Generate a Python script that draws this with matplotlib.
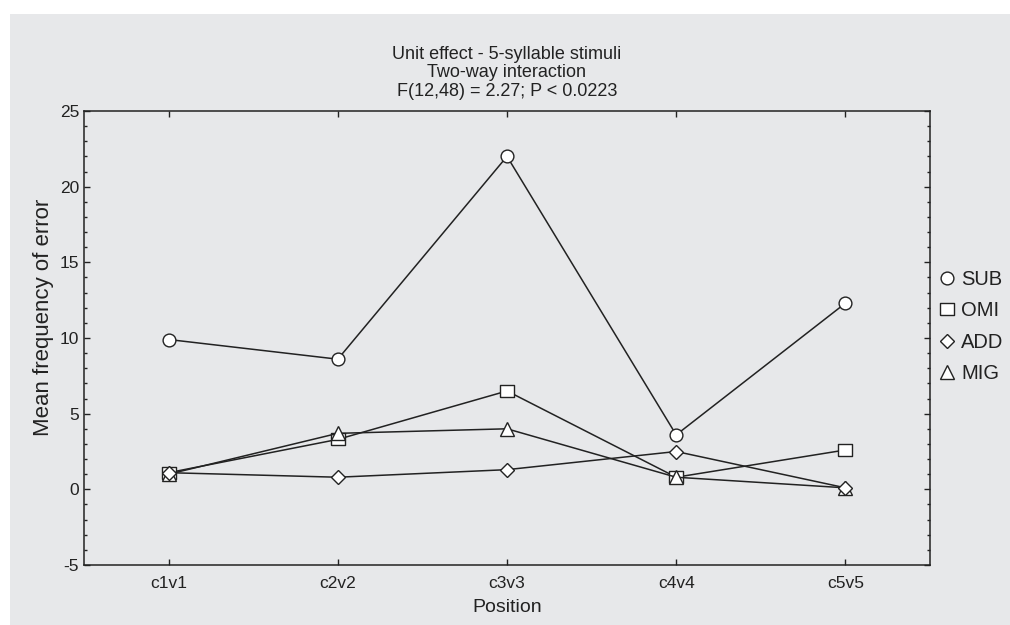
import numpy as np
import matplotlib
matplotlib.use("Agg")
import matplotlib.pyplot as plt
from matplotlib.patches import Rectangle
from matplotlib.ticker import MultipleLocator

plt.rcParams['font.family'] = ['Liberation Sans', 'DejaVu Sans']
plt.rcParams['axes.unicode_minus'] = False

# data
positions = ['c1v1', 'c2v2', 'c3v3', 'c4v4', 'c5v5']
sub = [9.9, 8.6, 22.0, 3.6, 12.3]
omi = [1.1, 3.3, 6.5, 0.8, 2.6]
add = [1.1, 0.8, 1.3, 2.5, 0.1]
mig = [1.0, 3.7, 4.0, 0.8, 0.1]

bg = '#e7e8ea'
ink = '#222222'

fig = plt.figure(figsize=(10.1, 6.25), dpi=100)
fig.patch.set_facecolor('white')
fig.patches.append(Rectangle((10 / 1010, 0), 1, 1 - 14 / 625,
                             transform=fig.transFigure, facecolor=bg,
                             edgecolor='none', zorder=-10))

ax = fig.add_axes([84 / 1010, 1 - 565 / 625, 846 / 1010, 454 / 625])
ax.set_facecolor(bg)

x = np.arange(1, len(positions) + 1)

# wide rectangle marker
rect = [(-1.25, -1), (1.25, -1), (1.25, 1), (-1.25, 1), (-1.25, -1)]

common = dict(color=ink, linewidth=1.1, markerfacecolor='white',
              markeredgecolor=ink, markeredgewidth=1.0)
l_sub, = ax.plot(x, sub, marker='o', markersize=9.2, label='SUB', zorder=3, **common)
l_omi, = ax.plot(x, omi, marker=rect, markersize=10.5, label='OMI', zorder=4, **common)
l_mig, = ax.plot(x, mig, marker='^', markersize=9.5, label='MIG', zorder=5, **common)
l_add, = ax.plot(x, add, marker='D', markersize=6.8, label='ADD', zorder=6, **common)

ax.set_xlim(0.5, 5.5)
ax.set_ylim(-5, 25)
ax.set_xticks(x)
ax.set_xticklabels(positions)
ax.yaxis.set_major_locator(MultipleLocator(5))
ax.yaxis.set_minor_locator(MultipleLocator(1))

ax.tick_params(axis='both', which='both', direction='in', top=True, right=True,
               colors=ink, labelsize=12.5, width=1.0)
ax.tick_params(axis='both', which='major', length=4)
ax.tick_params(axis='both', which='minor', length=2.5)
ax.tick_params(axis='x', pad=8)
for s in ax.spines.values():
    s.set_color(ink)
    s.set_linewidth(1.1)

ax.set_xlabel('Position', fontsize=14, color=ink, labelpad=6)
ax.set_ylabel('Mean frequency of error', fontsize=16, color=ink)
ax.yaxis.set_label_coords(-0.036, 0.545)
ax.set_title('Unit effect - 5-syllable stimuli\nTwo-way interaction\nF(12,48) = 2.27; P < 0.0223',
             fontsize=13, color=ink, linespacing=1.12, pad=11)

leg = ax.legend(handles=[l_sub, l_omi, l_add, l_mig], loc='center left',
                bbox_to_anchor=(1.0, 0.525), frameon=False, fontsize=14.5,
                handlelength=0.0, handletextpad=0.7, labelspacing=0.62,
                borderpad=0.2, borderaxespad=0.65)
for t in leg.get_texts():
    t.set_color(ink)

plt.savefig('out.png', dpi=100, facecolor=fig.get_facecolor())
